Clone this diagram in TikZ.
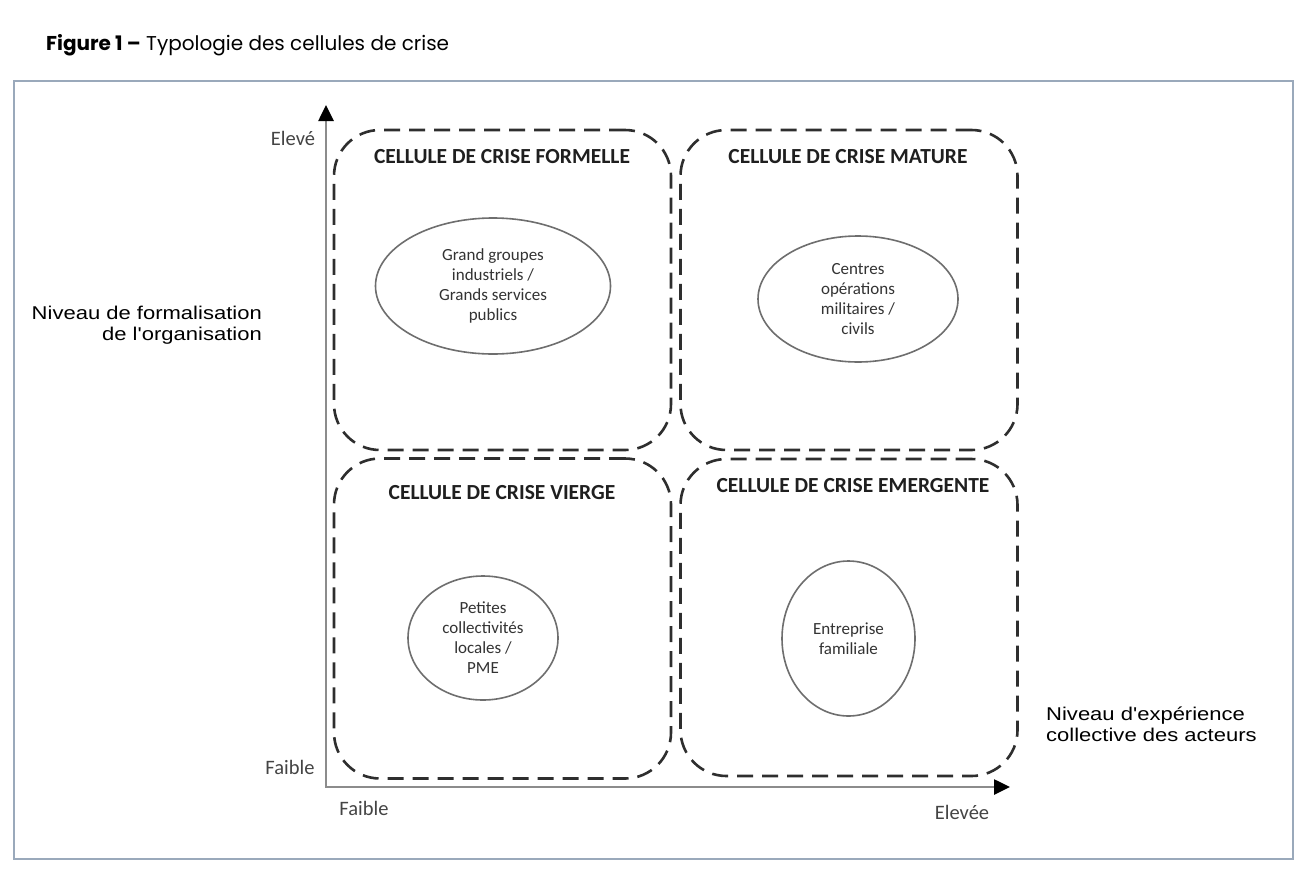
\documentclass[tikz,border=0pt]{standalone}
\usepackage{fontspec}
\usepackage{graphicx}
\setmainfont{Carlito}
\newfontfamily\arialf{Liberation Sans}
\newfontfamily\titlef{Poppins}
\usetikzlibrary{arrows.meta,shapes.geometric}
\definecolor{framec}{HTML}{9AA9BB}
\definecolor{dashc}{HTML}{2E2E2E}
\definecolor{axisc}{HTML}{8C8C8C}
\definecolor{ellc}{HTML}{6E6E6E}
\definecolor{lblc}{HTML}{444444}
\begin{document}
\begin{tikzpicture}[x=1pt,y=-1pt,
  cellbox/.style={draw=dashc, line width=2.6pt, dash pattern=on 16pt off 9pt,
    rounded corners=46pt, minimum width=337pt, minimum height=320pt, inner sep=0pt},
  celltitle/.style={font=\bfseries\fontsize{21.5}{24}\selectfont, text=black!88},
  ell/.style={draw=ellc, line width=1.6pt, ellipse, inner sep=0pt},
  elltext/.style={font=\fontsize{17}{20}\selectfont, text=black!80, align=center},
  axis/.style={draw=axisc, line width=2.6pt, {Triangle[length=16pt,width=15pt,color=black]}-{Triangle[length=16pt,width=15pt,color=black]}},
  axlbl/.style={font=\fontsize{20.5}{24}\selectfont, text=lblc},
  desc/.style={font=\arialf\fontsize{18.5}{21}\selectfont, text=black, inner sep=0pt},
]
\useasboundingbox (0,0) rectangle (1316,886);
\fill[white] (0,0) rectangle (1316,886);
% title
\node[anchor=west, inner sep=0pt, font=\titlef\fontsize{20}{23}\selectfont] (title) at (46,45)
  {\textbf{Figure~1 –} Typologie des cellules de crise};
% frame
\node[draw=framec, line width=2pt, minimum width=1279pt, minimum height=778pt, inner sep=0pt] (frame) at (653.5,470) {};
% cells
\node[cellbox] (tl) at (502.5,290) {};
\node[cellbox] (tr) at (849,290) {};
\node[cellbox] (bl) at (502.5,618.5) {};
\node[cellbox, minimum height=317pt] (br) at (849,617.5) {};
% cell titles
\node[celltitle] (ttl) at (502,157) {CELLULE DE CRISE FORMELLE};
\node[celltitle] (ttr) at (848,157) {CELLULE DE CRISE MATURE};
\node[celltitle] (tbl) at (502,493) {CELLULE DE CRISE VIERGE};
\node[celltitle] (tbr) at (853,486) {CELLULE DE CRISE EMERGENTE};
% ellipses
\node[ell, minimum width=235pt, minimum height=136pt] (etl) at (493,286) {};
\node[elltext] at (etl) {Grand groupes\\industriels /\\Grands services\\publics};
\node[ell, minimum width=200pt, minimum height=126pt] (etr) at (858,299) {};
\node[elltext] at (etr) {Centres\\opérations\\militaires /\\civils};
\node[ell, minimum width=150pt, minimum height=124pt] (ebl) at (483,638) {};
\node[elltext] at (ebl) {Petites\\collectivités\\locales /\\PME};
\node[ell, minimum width=133pt, minimum height=155pt] (ebr) at (848.5,638.5) {};
\node[elltext] at (ebr) {Entreprise\\familiale};
% axes
\coordinate (o) at (326,787);
\coordinate (ytop) at (326,105);
\coordinate (xend) at (1010,787);
\draw[axis] (ytop) -- (o) -- (xend);
% axis labels
\node[axlbl] (ehi) at (293,138) {Elevé};
\node[axlbl] (flo) at (290,767) {Faible};
\node[axlbl] (fx) at (364,808) {Faible};
\node[axlbl] (ex) at (962,812) {Elevée};
% descriptions
\node[desc, anchor=east] (dy) at (262,326) {\scalebox{1.19}[1]{\begin{tabular}{@{}r@{}}Niveau de formalisation\\de l'organisation\end{tabular}}};
\node[desc, anchor=west] (dx) at (1046,727) {\scalebox{1.19}[1]{\begin{tabular}{@{}l@{}}Niveau d'expérience\\collective des acteurs\end{tabular}}};
\end{tikzpicture}
\end{document}
